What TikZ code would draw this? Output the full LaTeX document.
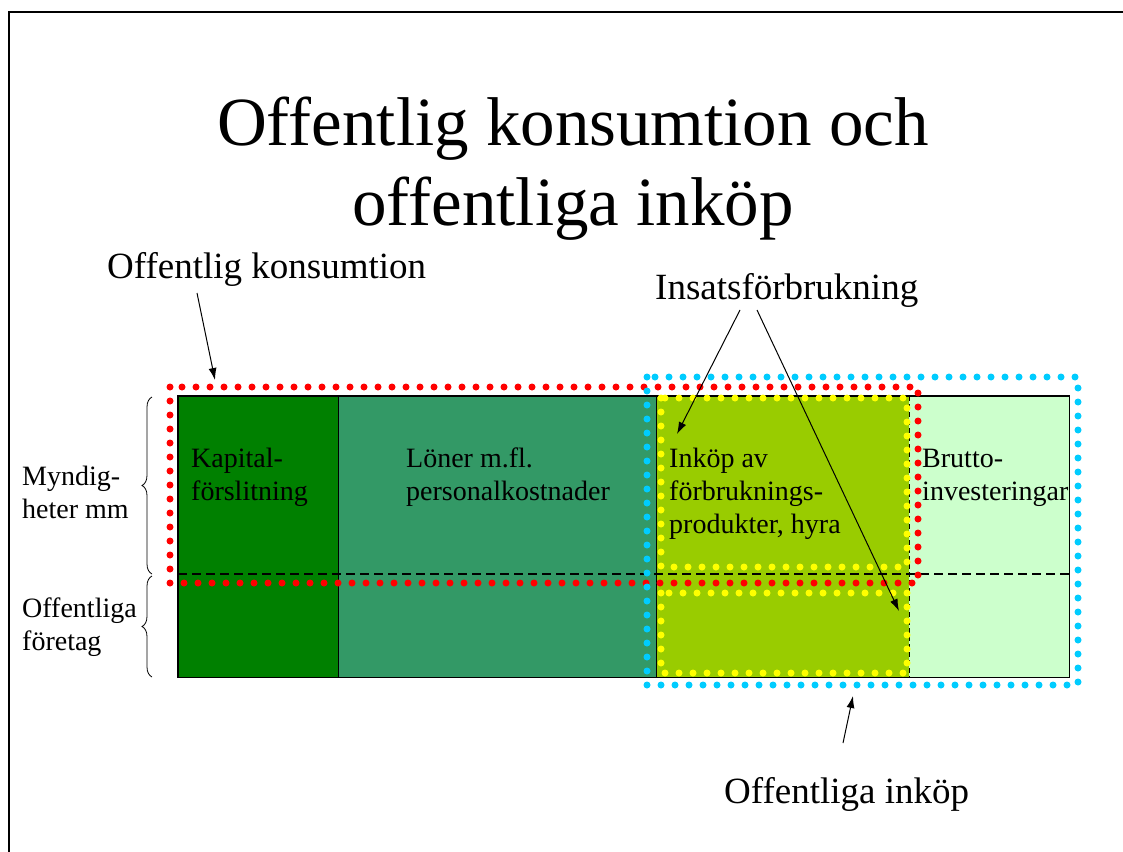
\documentclass[tikz,border=0pt]{standalone}
\usepackage{fontspec}
\setmainfont{Liberation Serif}
\usetikzlibrary{decorations.pathreplacing,arrows.meta}
\definecolor{dkgreen}{RGB}{0,128,0}
\definecolor{seagreen}{RGB}{51,153,102}
\definecolor{limegreen}{RGB}{153,204,0}
\definecolor{palegreen}{RGB}{204,255,204}
\definecolor{dotred}{RGB}{255,0,0}
\definecolor{dotblue}{RGB}{0,204,255}
\definecolor{dotyellow}{RGB}{255,255,0}
\begin{document}
\begin{tikzpicture}[x=1pt,y=-1pt,
  titlefont/.style={inner sep=0pt, anchor=base, font=\fontsize{69}{80}\selectfont},
  biglab/.style={inner sep=0pt, anchor=base west, font=\fontsize{37}{42}\selectfont},
  lab/.style={inner sep=0pt, anchor=base west, font=\fontsize{28}{33}\selectfont},
  cell/.style={inner sep=0pt, anchor=north west, minimum height=281pt},
  dots/.style={line width=7pt, line cap=round, dash pattern=on 0pt off 14pt},
  arr/.style={-{Latex[length=12pt,width=8pt]}, line width=1pt},
  bracestyle/.style={decorate, decoration={brace, amplitude=10pt}, line width=0.8pt}]
\useasboundingbox (0,0) rectangle (1123,851);
\fill[white] (0,0) rectangle (1123,851);
% frame
\draw[line width=2pt] (9,870) -- (9,12) -- (1140,12);
% title
\node[titlefont] (t1) at (573,145) {Offentlig konsumtion och};
\node[titlefont] (t2) at (573,225) {offentliga inköp};
% cells
\node[cell, fill=dkgreen, minimum width=160pt] (c1) at (178,396) {};
\node[cell, fill=seagreen, minimum width=318pt] (c2) at (338,396) {};
\node[cell, fill=limegreen, minimum width=253pt] (c3) at (656,396) {};
\node[cell, fill=palegreen, minimum width=160pt] (c4) at (909,396) {};
\draw[line width=1pt] (c1.north east) -- (c1.south east);
\draw[line width=1pt] (c2.north east) -- (c2.south east);
\draw[line width=1pt, dash pattern=on 5pt off 3pt] (c3.north east) -- (c3.south east);
\coordinate (hl) at (178,574);
\coordinate (hr) at (1069,574);
\draw[line width=2pt, dash pattern=on 9pt off 5pt] (hl) -- (hr);
\draw[line width=1.6pt] (c1.north west) rectangle (c4.south east);
% cell texts
\node[lab] (k1) at (191,467) {Kapital-};
\node[lab] (k2) at (191,500) {förslitning};
\node[lab] (l1) at (406,467) {Löner m.fl.};
\node[lab] (l2) at (406,500) {personalkostnader};
\node[lab] (i1) at (669,467) {Inköp av};
\node[lab] (i2) at (669,500) {förbruknings-};
\node[lab] (i3) at (669,533) {produkter, hyra};
\node[lab] (b1) at (922,467) {Brutto-};
\node[lab] (b2) at (922,500) {investeringar};
% left labels
\node[lab] (m1) at (22,485) {Myndig-};
\node[lab] (m2) at (22,518) {heter mm};
\node[lab] (f1) at (22,617) {Offentliga};
\node[lab] (f2) at (22,650) {företag};
% braces
\coordinate (br1a) at (152,574);
\coordinate (br1b) at (152,397);
\coordinate (br2a) at (152,677);
\coordinate (br2b) at (152,576);
\draw[bracestyle] (br1a) -- (br1b);
\draw[bracestyle] (br2a) -- (br2b);
% dotted outlines
\draw[dots, dotred] (170,387) rectangle (918,583);
\draw[dots, dotyellow] (661,398) rectangle (907,567);
\draw[dots, dotyellow] (661,593) rectangle (907,673);
\draw[dots, dotblue] (647,377) rectangle (1078,685);
% labels
\node[biglab] (ok) at (107,278) {Offentlig konsumtion};
\node[biglab] (ins) at (655,299) {Insatsförbrukning};
\node[biglab] (oi) at (724,803) {Offentliga inköp};
% arrows
\coordinate (a1s) at (197,293);
\coordinate (a1e) at (215,380);
\coordinate (a2s) at (740,310);
\coordinate (a2e) at (677,434);
\coordinate (a3s) at (757,310);
\coordinate (a3e) at (899,611);
\coordinate (a4s) at (843,743);
\coordinate (a4e) at (853,696);
\draw[arr] (a1s) -- (a1e);
\draw[arr] (a2s) -- (a2e);
\draw[arr] (a3s) -- (a3e);
\draw[arr] (a4s) -- (a4e);
\end{tikzpicture}
\end{document}
